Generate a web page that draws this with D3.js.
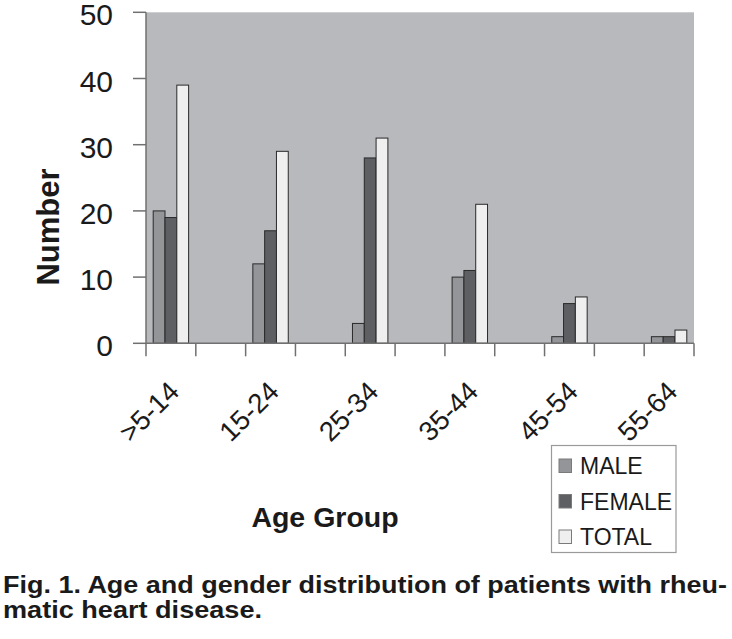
<!DOCTYPE html>
<html>
<head>
<meta charset="utf-8">
<script src="https://cdn.jsdelivr.net/npm/d3@7"></script>
<style>
  html, body { margin: 0; padding: 0; background: #ffffff; }
  svg { display: block; font-family: "Liberation Sans", Arial, Helvetica, sans-serif; }
</style>
</head>
<body>
<svg id="chart" width="732" height="639"></svg>
<script>
// ---- data ----
const categories = [">5-14", "15-24", "25-34", "35-44", "45-54", "55-64"];
const seriesNames = ["MALE", "FEMALE", "TOTAL"];
const maleValues = [20, 12, 3, 10, 1, 1];
const femaleValues = [19, 17, 28, 11, 6, 1];
const totalValues = [39, 29, 31, 21, 7, 2];
const yTicks = [0, 10, 20, 30, 40, 50];
const xTitle = "Age Group";
const yTitle = "Number";
const captionLines = ["Fig. 1. Age and gender distribution of patients with rheu-", "matic heart disease."];

const seriesValues = [maleValues, femaleValues, totalValues];
const colors = { MALE: "#949599", FEMALE: "#5e5f62", TOTAL: "#efefef" };

// ---- layout ----
const plot = { left: 146, right: 694, top: 12.3, bottom: 343.3 };
const svg = d3.select("#chart");

// each category is followed by an empty slot (Excel-style spacing)
const slots = categories.flatMap((c, i) => i < categories.length - 1 ? [c, "gap" + i] : [c]);

const x = d3.scaleBand().domain(slots).range([plot.left, plot.right]).padding(0);
const x1 = d3.scaleBand().domain(seriesNames).range([0, x.bandwidth()]).paddingInner(0).paddingOuter(0.61);
const y = d3.scaleLinear().domain([0, 50]).range([plot.bottom, plot.top]);

// plot background
svg.append("rect")
  .attr("x", plot.left).attr("y", plot.top)
  .attr("width", plot.right - plot.left).attr("height", plot.bottom - plot.top)
  .attr("fill", "#b8b9bc");

// bars
const rows = categories.map((c, i) => ({ cat: c, vals: seriesNames.map((s, j) => ({ s, v: seriesValues[j][i] })) }));
const g = svg.append("g").selectAll("g").data(rows).join("g")
  .attr("transform", d => `translate(${x(d.cat)},0)`);
g.selectAll("rect").data(d => d.vals).join("rect")
  .attr("x", d => x1(d.s))
  .attr("y", d => y(d.v))
  .attr("width", x1.bandwidth())
  .attr("height", d => y(0) - y(d.v))
  .attr("fill", d => colors[d.s])
  .attr("stroke", "#2a2a2a")
  .attr("stroke-width", 1);

// y axis
const axisColor = "#707070";
svg.append("line")
  .attr("x1", plot.left).attr("x2", plot.left)
  .attr("y1", plot.top).attr("y2", plot.bottom)
  .attr("stroke", axisColor).attr("stroke-width", 1.5);
svg.append("g").selectAll("line").data(yTicks).join("line")
  .attr("x1", plot.left - 13).attr("x2", plot.left)
  .attr("y1", d => y(d)).attr("y2", d => y(d))
  .attr("stroke", axisColor).attr("stroke-width", 1.5);
svg.append("g").selectAll("text").data(yTicks).join("text")
  .attr("x", plot.left - 33)
  .attr("y", d => y(d) + 13)
  .attr("text-anchor", "end")
  .attr("font-size", 30)
  .attr("fill", "#1a1a1a")
  .text(d => d);

// x axis
svg.append("line")
  .attr("x1", plot.left).attr("x2", plot.right)
  .attr("y1", plot.bottom).attr("y2", plot.bottom)
  .attr("stroke", axisColor).attr("stroke-width", 1.5);
const tickPos = slots.map(s => x(s)).concat([x(slots[slots.length - 1]) + x.bandwidth()]);
svg.append("g").selectAll("line").data(tickPos).join("line")
  .attr("x1", d => d).attr("x2", d => d)
  .attr("y1", plot.bottom).attr("y2", plot.bottom + 13)
  .attr("stroke", axisColor).attr("stroke-width", 1.5);
svg.append("g").selectAll("text").data(categories).join("text")
  .attr("transform", d => `translate(${x(d) + x.bandwidth() / 2 + 10},${plot.bottom + 50}) rotate(-45)`)
  .attr("text-anchor", "end")
  .attr("font-size", 27.5)
  .attr("fill", "#1a1a1a")
  .text(d => d);

// axis titles
svg.append("text")
  .attr("transform", `translate(59,227) rotate(-90)`)
  .attr("text-anchor", "middle")
  .attr("font-size", 31)
  .attr("font-weight", "bold")
  .attr("fill", "#1a1a1a")
  .text(yTitle);
svg.append("text")
  .attr("x", 325).attr("y", 527)
  .attr("text-anchor", "middle")
  .attr("font-size", 28.5)
  .attr("font-weight", "bold")
  .attr("fill", "#1a1a1a")
  .text(xTitle);

// legend
const lg = svg.append("g");
lg.append("rect")
  .attr("x", 551.5).attr("y", 445.5).attr("width", 124.5).attr("height", 107)
  .attr("fill", "#ffffff").attr("stroke", "#9a9a9a").attr("stroke-width", 1.2);
const li = lg.selectAll("g").data(seriesNames).join("g")
  .attr("transform", (d, i) => `translate(0,${i * 35.5})`);
li.append("rect")
  .attr("x", 559).attr("y", 459).attr("width", 12.5).attr("height", 13.5)
  .attr("fill", d => colors[d]).attr("stroke", "#7a7a7a").attr("stroke-width", 1);
li.append("text")
  .attr("x", 580).attr("y", 474)
  .attr("font-size", 23)
  .attr("fill", "#1a1a1a")
  .text(d => d);

// caption
const captionLengths = [724, 259];
svg.append("g").selectAll("text").data(captionLines).join("text")
  .attr("x", 3)
  .attr("y", (d, i) => 593 + i * 25)
  .attr("font-size", 24.5)
  .attr("font-weight", "bold")
  .attr("fill", "#1a1a1a")
  .attr("textLength", (d, i) => captionLengths[i])
  .attr("lengthAdjust", "spacingAndGlyphs")
  .text(d => d);
</script>
</body>
</html>
